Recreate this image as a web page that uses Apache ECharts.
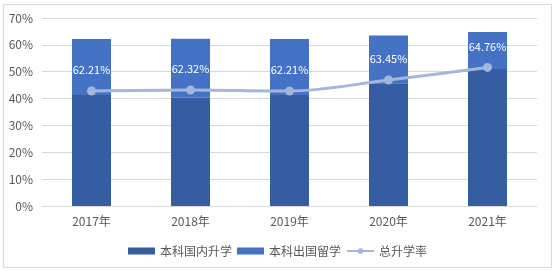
<!DOCTYPE html>
<html><head><meta charset="utf-8">
<script src="https://cdn.jsdelivr.net/npm/echarts@6/dist/echarts.min.js"></script>
<style>html,body{margin:0;padding:0;background:#fff}#c{width:555px;height:271px}</style>
</head><body><div id="c"></div>
<script>
const categories = ['2017年','2018年','2019年','2020年','2021年'];
const domestic = [41.3, 40.3, 41.3, 45.7, 51.0];
const abroad = [20.91, 22.02, 20.91, 17.75, 13.76];
const totalLine = [42.8, 43.2, 42.8, 46.9, 51.6];
const totalLabels = ['62.21%','62.32%','62.21%','63.45%','64.76%'];

const chart = echarts.init(document.getElementById('c'));
const txt = '#595959';
const font = '"Microsoft YaHei","Noto Sans CJK SC",sans-serif';
chart.setOption({
  animation: false,
  textStyle: {fontFamily: font},
  graphic: [{type:'rect', shape:{x:3.5,y:4.5,width:548,height:263}, style:{fill:null, stroke:'#d9d9d9', lineWidth:1}, z:-10}],
  grid: {left: 42, right: 18, top: 18, bottom: 65},
  legend: {
    bottom: 9, left: 'center', itemGap: 5, itemWidth: 27, itemHeight: 7,
    textStyle: {color: txt, fontSize: 12, fontFamily: font},
    data: [{name:'本科国内升学', icon:'rect'}, {name:'本科出国留学', icon:'rect'}, {name:'总升学率'}]
  },
  xAxis: {
    type: 'category', data: categories,
    axisLine: {lineStyle: {color: '#d9d9d9'}}, axisTick: {show: false},
    axisLabel: {color: txt, fontSize: 12, margin: 9}
  },
  yAxis: {
    type: 'value', min: 0, max: 70, interval: 10,
    axisLabel: {formatter: '{value}%', color: txt, fontSize: 12, margin: 9},
    axisLine: {show: false}, axisTick: {show: false},
    splitLine: {lineStyle: {color: '#d9d9d9'}}
  },
  series: [
    {name:'本科国内升学', type:'bar', stack:'a', data: domestic, barWidth: 39, itemStyle:{color:'#355da1'}},
    {name:'本科出国留学', type:'bar', stack:'a', data: abroad, barWidth: 39, itemStyle:{color:'#4472c4'}},
    {name:'总升学率', type:'line', data: totalLine, smooth: 0.3, symbol:'circle', symbolSize: 9,
     lineStyle:{color:'#a6b5dc', width:3}, itemStyle:{color:'#a6b5dc'},
     label:{show:true, position:'top', distance: 11, color:'#fff', fontSize:11,
       formatter: p => totalLabels[p.dataIndex]}}
  ]
});
</script></body></html>
